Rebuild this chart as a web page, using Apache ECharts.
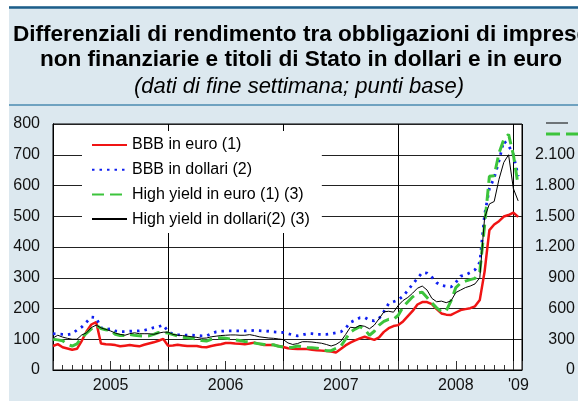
<!DOCTYPE html>
<html>
<head>
<meta charset="utf-8">
<script src="https://cdn.jsdelivr.net/npm/echarts@6/dist/echarts.min.js"></script>
<style>
  html, body { margin: 0; padding: 0; background: #fff; }
  #chart { width: 578px; height: 401px; }
</style>
</head>
<body>
<div id="chart"></div>
<script>
// date di fine settimana (campionate ogni mezzo mese)
var dates = [
  '2005-01-01','2005-01-16','2005-02-01','2005-02-16','2005-03-01','2005-03-16','2005-04-01','2005-04-16','2005-05-01','2005-05-16','2005-06-01','2005-06-16',
  '2005-07-01','2005-07-16','2005-08-01','2005-08-16','2005-09-01','2005-09-16','2005-10-01','2005-10-16','2005-11-01','2005-11-16','2005-12-01','2005-12-16',
  '2006-01-01','2006-01-16','2006-02-01','2006-02-16','2006-03-01','2006-03-16','2006-04-01','2006-04-16','2006-05-01','2006-05-16','2006-06-01','2006-06-16',
  '2006-07-01','2006-07-16','2006-08-01','2006-08-16','2006-09-01','2006-09-16','2006-10-01','2006-10-16','2006-11-01','2006-11-16','2006-12-01','2006-12-16',
  '2007-01-01','2007-01-16','2007-02-01','2007-02-16','2007-03-01','2007-03-16','2007-04-01','2007-04-16','2007-05-01','2007-05-16','2007-06-01','2007-06-16',
  '2007-07-01','2007-07-16','2007-08-01','2007-08-16','2007-09-01','2007-09-16','2007-10-01','2007-10-16','2007-11-01','2007-11-16','2007-12-01','2007-12-16',
  '2008-01-01','2008-01-16','2008-02-01','2008-02-16','2008-03-01','2008-03-16','2008-04-01','2008-04-16','2008-05-01','2008-05-16','2008-06-01','2008-06-16',
  '2008-07-01','2008-07-16','2008-08-01','2008-08-16','2008-09-01','2008-09-16','2008-10-01','2008-10-16','2008-11-01','2008-11-16','2008-12-01','2008-12-16',
  '2009-01-01','2009-01-16'
];

// scala di sinistra
var bbbEuro = [
  78,84,74,70,66,69,95,125,148,156,86,84, 83,81,77,79,81,79,77,82,86,90,95,101,
  79,80,82,80,78,78,78,75,74,78,81,84, 88,88,86,85,84,86,89,85,81,81,81,78,
  75,71,69,68,68,68,66,64,63,62,60,57, 68,80,89,96,103,108,103,98,106,124,136,143,
  146,158,175,192,213,221,221,214,198,184,180,179, 187,195,198,201,207,228,320,455,473,484,499,504,
  512,498
];
var bbbDollari = [
  118,117,116,115,118,130,140,156,172,170,138,132, 134,127,125,125,126,127,127,129,133,138,141,146,
  125,117,115,114,113,113,112,111,111,118,124,126, 127,127,127,127,127,128,129,128,127,126,124,123,
  122,118,114,111,114,118,118,116,116,116,118,121, 124,135,155,162,170,171,162,160,168,190,216,222,
  228,240,259,279,298,317,315,302,284,275,272,270, 285,305,309,317,326,350,505,590,625,680,745,730,
  700,630
];

// scala di destra
var hyEuro = [
  300,294,285,252,234,255,318,360,402,438,405,393, 387,348,336,336,348,339,333,330,333,348,366,366,
  360,345,333,321,315,309,300,288,282,300,309,315, 309,303,294,288,279,273,264,255,249,246,246,231,
  225,219,222,234,228,219,216,213,204,189,189,210, 231,300,369,399,423,396,339,378,438,474,495,495,
  534,615,666,714,750,759,708,654,606,570,576,675, 804,849,867,882,894,960,1410,1890,1896,2115,2250,2298,
  2100,1800
];
var hyDollari = [
  312,339,321,309,300,300,342,363,414,438,411,396, 381,360,348,339,354,363,354,354,354,348,360,369,
  369,348,339,336,330,324,318,309,312,324,330,336, 339,342,342,339,339,345,336,324,318,312,309,303,
  297,264,249,258,276,276,273,267,261,249,234,249, 279,345,417,411,435,426,402,438,501,567,573,564,
  630,678,708,750,798,819,780,699,666,672,657,675, 756,780,804,819,840,900,1485,1620,1644,1860,2025,2100,
  1770,1650
];

var yearLabels = { 6: '2005', 18: '2006', 30: '2007', 42: '2008', 48: "'09" };

// mesi dal gennaio 2005
function toMonth(d) {
  var p = d.split('-');
  return (parseInt(p[0]) - 2005) * 12 + (parseInt(p[1]) - 1) + (parseInt(p[2]) - 1) / 30;
}
function pairs(vals) {
  return vals.map(function (v, i) { return [toMonth(dates[i]), v]; });
}
function fmtDot(v) {
  if (v === 2400) return '';
  if (v >= 1000) return Math.floor(v / 1000) + '.' + String(v % 1000).padStart(3, '0');
  return String(v);
}

var chart = echarts.init(document.getElementById('chart'), null, { renderer: 'canvas' });

var FONT = 'Liberation Sans, Arial, sans-serif';
var xMin = 0, xMax = 48.9;

var option = {
  animation: false,
  backgroundColor: '#dce8ef',
  textStyle: { fontFamily: FONT },
  grid: {
    left: 53, right: 52, top: 124, bottom: 31,
    show: true, backgroundColor: '#fff', borderColor: '#000', borderWidth: 1
  },
  legend: {
    orient: 'vertical',
    left: 82, top: 131,
    backgroundColor: '#fff',
    padding: [6, 12, 6, 9],
    itemWidth: 35, itemHeight: 14, itemGap: 8.7,
    itemStyle: { color: 'rgba(0,0,0,0)', borderWidth: 0 },
    textStyle: { fontSize: 16, color: '#000', fontFamily: FONT, lineHeight: 16 },
    data: ['BBB in euro (1)', 'BBB in dollari (2)', 'High yield in euro (1) (3)', 'High yield in dollari(2) (3)']
  },
  xAxis: [
    { // tacche mensili
      type: 'value', min: xMin, max: xMax, interval: 1, position: 'bottom',
      axisLine: { show: true, lineStyle: { color: '#000', width: 1 } },
      axisTick: { show: true, inside: true, length: 5, lineStyle: { color: '#333' } },
      axisLabel: { show: false },
      splitLine: { show: false }
    },
    { // linee di fine anno
      type: 'value', min: xMin, max: xMax, interval: 12, position: 'bottom',
      axisLine: { show: false }, axisTick: { show: false }, axisLabel: { show: false },
      splitLine: { show: true, lineStyle: { color: '#000', width: 1 } }
    },
    { // etichette degli anni
      type: 'value', min: xMin, max: xMax, interval: 6, position: 'bottom',
      axisLine: { show: false },
      axisTick: { show: true, inside: true, length: 9, lineStyle: { color: '#333' } },
      splitLine: { show: false },
      axisLabel: {
        show: true, margin: 8, fontSize: 16, color: '#111', fontFamily: FONT,
        formatter: function (v) {
          var s = yearLabels[v];
          if (!s) return '';
          return v === 48 ? '{r|' + s + '}' : s;
        },
        rich: { r: { fontSize: 16, color: '#111', fontFamily: FONT, padding: [0, 0, 0, 10] } }
      }
    }
  ],
  yAxis: [
    {
      type: 'value', min: 0, max: 800, interval: 100, position: 'left',
      axisLine: { show: true, lineStyle: { color: '#000' } },
      axisTick: { show: false },
      axisLabel: { fontSize: 16, color: '#111', margin: 13, fontFamily: FONT },
      splitLine: { show: true, lineStyle: { color: '#222', width: 1 } }
    },
    {
      type: 'value', min: 0, max: 2400, interval: 300, position: 'right',
      axisLine: { show: true, lineStyle: { color: '#000' } },
      axisTick: { show: false },
      axisLabel: { fontSize: 16, color: '#111', margin: 53, align: 'right', fontFamily: FONT, formatter: fmtDot },
      splitLine: { show: false }
    }
  ],
  series: [
    {
      name: 'BBB in euro (1)', type: 'line', symbol: 'none', data: pairs(bbbEuro),
      lineStyle: { color: '#f01414', width: 2.5 }, itemStyle: { color: '#f01414' }
    },
    {
      name: 'BBB in dollari (2)', type: 'line', symbol: 'none', data: pairs(bbbDollari),
      lineStyle: { color: '#1020f0', width: 2.8, type: [2.5, 5] }, itemStyle: { color: '#1020f0' }
    },
    {
      name: 'High yield in euro (1) (3)', type: 'line', symbol: 'none', yAxisIndex: 1, data: pairs(hyEuro),
      lineStyle: { color: '#3cc43c', width: 3, type: [12, 6] }, itemStyle: { color: '#3cc43c' }
    },
    {
      name: 'High yield in dollari(2) (3)', type: 'line', symbol: 'none', yAxisIndex: 1, data: pairs(hyDollari),
      lineStyle: { color: '#000', width: 1 }, itemStyle: { color: '#000' }
    }
  ],
  graphic: [
    { type: 'rect', shape: { x: 0, y: 0, width: 9, height: 401 }, style: { fill: '#fff' }, silent: true },
    { type: 'rect', shape: { x: 0, y: 0, width: 578, height: 6 }, style: { fill: '#fff' }, silent: true },
    { type: 'line', shape: { x1: 9, y1: 7.5, x2: 578, y2: 7.5 }, style: { stroke: '#1d5e8a', lineWidth: 2.5 }, silent: true },
    { type: 'line', shape: { x1: 9, y1: 105, x2: 578, y2: 105 }, style: { stroke: '#4b8bb0', lineWidth: 1.5 }, silent: true },
    { type: 'text', x: 301, y: 34.5, style: { text: 'Differenziali di rendimento tra obbligazioni di imprese', font: 'bold 22.6px ' + FONT, fill: '#000', align: 'center', verticalAlign: 'middle' } },
    { type: 'text', x: 301, y: 59.5, style: { text: 'non finanziarie e titoli di Stato in dollari e in euro', font: 'bold 22.6px ' + FONT, fill: '#000', align: 'center', verticalAlign: 'middle' } },
    { type: 'text', x: 299, y: 87, style: { text: '(dati di fine settimana; punti base)', font: 'italic 22px ' + FONT, fill: '#000', align: 'center', verticalAlign: 'middle' } },
    // simboli della scala di destra
    { type: 'line', shape: { x1: 546, y1: 123, x2: 568, y2: 123 }, style: { stroke: '#000', lineWidth: 1 }, silent: true },
    { type: 'line', shape: { x1: 546, y1: 134, x2: 578, y2: 134 }, style: { stroke: '#3cc43c', lineWidth: 3, lineDash: [14, 6] }, silent: true }
  ]
};

chart.setOption(option);
</script>
</body>
</html>
